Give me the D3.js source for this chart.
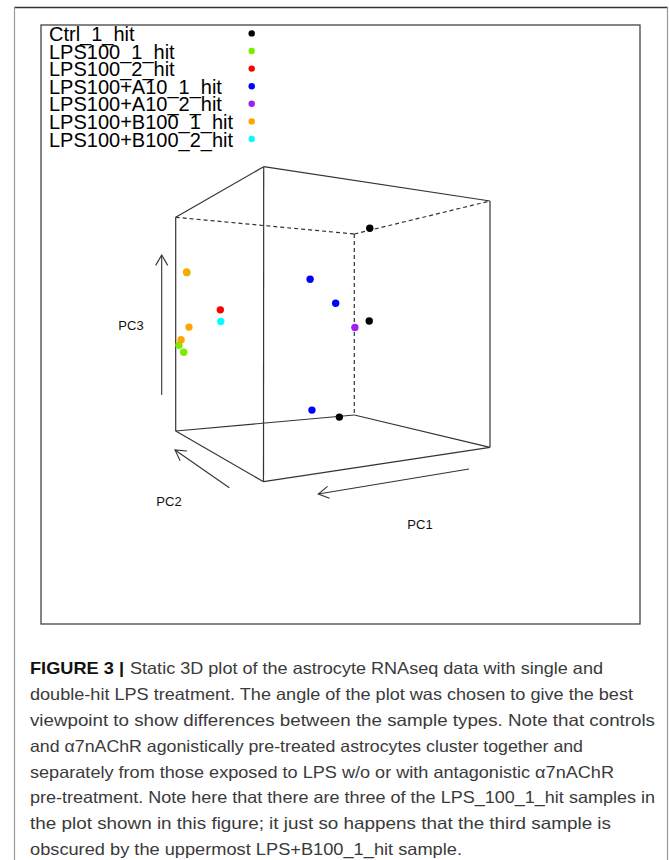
<!DOCTYPE html>
<html>
<head>
<meta charset="utf-8">
<script src="https://cdn.jsdelivr.net/npm/d3@7"></script>
<style>
  body { margin: 0; background: #fff; }
  svg { display: block; }
</style>
</head>
<body>
<svg id="drawing_region"></svg>
<script>
// groups (legend order) and their colours
const groups = [ "Ctrl_1_hit", "LPS100_1_hit", "LPS100_2_hit", "LPS100+A10_1_hit",
                 "LPS100+A10_2_hit", "LPS100+B100_1_hit", "LPS100+B100_2_hit" ];
const groupColors = [ "#000000", "#7CEB00", "#FF0000", "#0000FF", "#A020F0", "#FFA500", "#00FFFF" ];

// samples (PC units are estimates)
const sampleGroup = [ "Ctrl_1_hit", "Ctrl_1_hit", "Ctrl_1_hit",
                      "LPS100_1_hit", "LPS100_1_hit", "LPS100_1_hit",
                      "LPS100_2_hit",
                      "LPS100+A10_1_hit", "LPS100+A10_1_hit", "LPS100+A10_1_hit",
                      "LPS100+A10_2_hit",
                      "LPS100+B100_1_hit", "LPS100+B100_1_hit", "LPS100+B100_1_hit",
                      "LPS100+B100_2_hit" ];
const pc1 = [ -56.4, -60, -45.6,   60, 56.4, 56.4,   42,   -7.2, -30.8, -23.4,   -55.9,   56.4, 56.4, 56.4,   42 ];
const pc2 = [  27.6, 31.2, 36,     37, 37.6, 34.8,   25,   16, 24, 32,           36,      35, 32.9, 40,       24.6 ];
const pc3 = [  30, 1.1, -29.5,   -5.8, -7.8, 14.1,   3.8,  12.3, 6.2, -25.9,     -1.0,    14.3, -0.8, -4.4,   0.7 ];

const pc1Domain = [ -60, 60 ];
const pc2Domain = [ -40, 40 ];
const pc3Domain = [ -30, 30 ];

const axisLabels = [ "PC1", "PC2", "PC3" ];

const captionBold = "FIGURE 3 |";
const captionLines = [
    "Static 3D plot of the astrocyte RNAseq data with single and",
    "double-hit LPS treatment. The angle of the plot was chosen to give the best",
    "viewpoint to show differences between the sample types. Note that controls",
    "and \u03b17nAChR agonistically pre-treated astrocytes cluster together and",
    "separately from those exposed to LPS w/o or with antagonistic \u03b17nAChR",
    "pre-treatment. Note here that there are three of the LPS_100_1_hit samples in",
    "the plot shown in this figure; it just so happens that the third sample is",
    "obscured by the uppermost LPS+B100_1_hit sample."
];
// right end of each caption line (layout)
const captionEnds = [ 603, 633, 655, 583, 614, 655, 611, 462 ];

const width = 669, height = 860;

const svg = d3.select( "#drawing_region" )
    .attr( "width", width )
    .attr( "height", height );

// page frame
svg.append( "line" ).attr( "x1", 14 ).attr( "y1", 7.5 ).attr( "x2", 668 ).attr( "y2", 7.5 )
    .attr( "stroke", "#333" ).attr( "stroke-width", 1.3 );
svg.append( "line" ).attr( "x1", 14.5 ).attr( "y1", 7 ).attr( "x2", 14.5 ).attr( "y2", height )
    .attr( "stroke", "#999" ).attr( "stroke-width", 1.2 );
svg.append( "line" ).attr( "x1", 667.5 ).attr( "y1", 7 ).attr( "x2", 667.5 ).attr( "y2", height )
    .attr( "stroke", "#999" ).attr( "stroke-width", 1.2 );

// plot region box
svg.append( "rect" )
    .attr( "x", 41 ).attr( "y", 25 ).attr( "width", 599 ).attr( "height", 599 )
    .attr( "fill", "none" ).attr( "stroke", "#444" ).attr( "stroke-width", 1.3 );

// scales: PC values -> unit cube
const uScale = d3.scaleLinear().domain( pc1Domain ).range( [ 0, 1 ] );
const vScale = d3.scaleLinear().domain( pc2Domain ).range( [ 0, 1 ] );
const wScale = d3.scaleLinear().domain( pc3Domain ).range( [ 0, 1 ] );
const color = d3.scaleOrdinal().domain( groups ).range( groupColors );

// screen positions of the cube corners, indexed [u][v][w] (layout)
const corners = {
    "000": [ 490, 447.3 ], "001": [ 490, 201 ],
    "100": [ 263.5, 481.7 ], "101": [ 263.7, 166.7 ],
    "010": [ 354.3, 415 ], "011": [ 354.3, 234 ],
    "110": [ 175.7, 431 ], "111": [ 175.7, 217.3 ]
};

function project( u, v, w ) {
    let x = 0, y = 0;
    [ 0, 1 ].forEach( a => [ 0, 1 ].forEach( b => [ 0, 1 ].forEach( c => {
        const k = ( a ? u : 1 - u ) * ( b ? v : 1 - v ) * ( c ? w : 1 - w );
        const p = corners[ `${a}${b}${c}` ];
        x += k * p[0];
        y += k * p[1];
    } ) ) );
    return [ x, y ];
}

// cube edges: [from, to, dashed]
const edges = [
    [ "101", "001", false ], [ "101", "111", false ], [ "001", "000", false ],
    [ "000", "100", false ], [ "100", "110", false ], [ "110", "111", false ],
    [ "101", "100", false ], [ "110", "010", false ], [ "010", "000", false ],
    [ "111", "011", true ], [ "011", "001", true ], [ "011", "010", true ]
];

const cube = svg.append( "g" );
cube.selectAll( "line" )
    .data( edges )
    .enter()
    .append( "line" )
    .attr( "x1", d => corners[ d[0] ][0] )
    .attr( "y1", d => corners[ d[0] ][1] )
    .attr( "x2", d => corners[ d[1] ][0] )
    .attr( "y2", d => corners[ d[1] ][1] )
    .attr( "stroke", "#333" )
    .attr( "stroke-width", 1.2 )
    .attr( "stroke-dasharray", d => d[2] ? "4,3" : null );

// axis arrows
const arrows = [
    { from: [ 469, 469 ], to: [ 318.3, 494 ], label: [ 420, 524 ] },
    { from: [ 229.3, 487.7 ], to: [ 175, 450 ], label: [ 169, 501 ] },
    { from: [ 161.7, 395 ], to: [ 161.7, 255 ], label: [ 131, 325 ] }
];

const arrowG = svg.append( "g" )
    .attr( "stroke", "#333" )
    .attr( "stroke-width", 1.1 )
    .attr( "fill", "none" );

arrows.forEach( ( a, i ) => {
    arrowG.append( "line" )
        .attr( "x1", a.from[0] ).attr( "y1", a.from[1] )
        .attr( "x2", a.to[0] ).attr( "y2", a.to[1] );
    const ang = Math.atan2( a.to[1] - a.from[1], a.to[0] - a.from[0] );
    const len = 12, spread = Math.PI / 6;
    const w1 = [ a.to[0] - len * Math.cos( ang - spread ), a.to[1] - len * Math.sin( ang - spread ) ];
    const w2 = [ a.to[0] - len * Math.cos( ang + spread ), a.to[1] - len * Math.sin( ang + spread ) ];
    arrowG.append( "path" )
        .attr( "d", `M${w1[0]},${w1[1]}L${a.to[0]},${a.to[1]}L${w2[0]},${w2[1]}` );
    svg.append( "text" )
        .attr( "x", a.label[0] ).attr( "y", a.label[1] )
        .attr( "text-anchor", "middle" )
        .attr( "dominant-baseline", "central" )
        .attr( "font-family", "'Liberation Sans', Arial, sans-serif" )
        .attr( "font-size", 13 )
        .attr( "fill", "#111" )
        .text( axisLabels[i] );
} );

// points
const points = sampleGroup.map( ( g, i ) => ( { group: g, pc1: pc1[i], pc2: pc2[i], pc3: pc3[i] } ) );
points.sort( ( a, b ) => groups.indexOf( a.group ) - groups.indexOf( b.group ) );

svg.append( "g" )
    .selectAll( "circle" )
    .data( points )
    .enter()
    .append( "circle" )
    .attr( "cx", d => project( uScale( d.pc1 ), vScale( d.pc2 ), wScale( d.pc3 ) )[0] )
    .attr( "cy", d => project( uScale( d.pc1 ), vScale( d.pc2 ), wScale( d.pc3 ) )[1] )
    .attr( "r", 3.7 )
    .attr( "fill", d => color( d.group ) );

// legend
const legend = svg.append( "g" );
legend.selectAll( "text" )
    .data( groups )
    .enter()
    .append( "text" )
    .attr( "x", 49 )
    .attr( "y", ( d, i ) => 41 + i * 17.6 )
    .attr( "font-family", "'Liberation Sans', Arial, sans-serif" )
    .attr( "font-size", 20 )
    .attr( "fill", "#000" )
    .text( d => d );
legend.selectAll( "circle" )
    .data( groups )
    .enter()
    .append( "circle" )
    .attr( "cx", 251.7 )
    .attr( "cy", ( d, i ) => 33.4 + i * 17.6 )
    .attr( "r", 3.2 )
    .attr( "fill", d => color( d ) );

// caption
const cap = svg.append( "g" )
    .attr( "font-family", "'Liberation Sans', Arial, sans-serif" )
    .attr( "font-size", 16.5 );
cap.append( "text" )
    .attr( "x", 30 ).attr( "y", 674.4 )
    .attr( "font-weight", "bold" )
    .attr( "fill", "#111" )
    .attr( "textLength", 94 )
    .attr( "lengthAdjust", "spacingAndGlyphs" )
    .text( captionBold );
cap.selectAll( "text.line" )
    .data( captionLines )
    .enter()
    .append( "text" )
    .attr( "class", "line" )
    .attr( "x", ( d, i ) => i === 0 ? 130 : 30 )
    .attr( "y", ( d, i ) => 674.4 + i * 25.8 )
    .attr( "fill", "#3a3a3a" )
    .attr( "textLength", ( d, i ) => captionEnds[i] - ( i === 0 ? 130 : 30 ) )
    .attr( "lengthAdjust", "spacingAndGlyphs" )
    .text( d => d );
</script>
</body>
</html>
